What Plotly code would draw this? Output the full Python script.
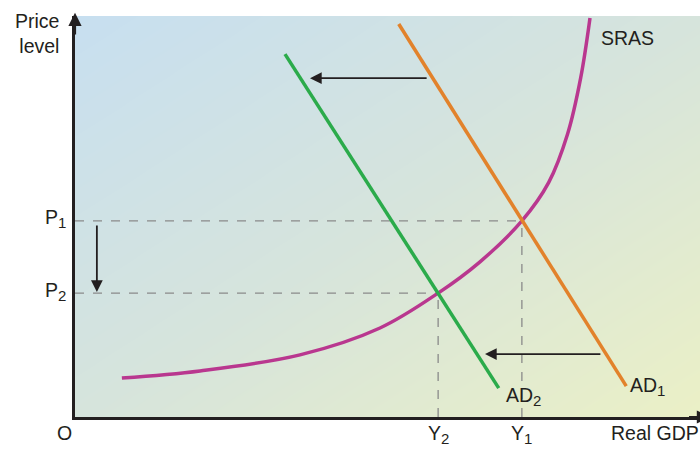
import numpy as np
import plotly.graph_objects as go

# Equilibrium values (price level and real GDP, arbitrary units 0-100)
P1, P2 = 48.9, 30.9
Y1, Y2 = 71.5, 58.1

# Short-run aggregate supply curve
sras_x = [7.5, 20.0, 36.0, 48.8, 58.1, 64.8, 71.5, 75.8, 78.8, 80.9, 82.4]
sras_y = [9.7, 11.5, 15.5, 22.2, 30.9, 38.7, 48.9, 58.5, 70.5, 84.5, 99.5]

# Aggregate demand lines (endpoints)
ad1_x = [51.8, 88.2]
ad1_y = [98.0, 7.7]
ad2_x = [33.6, 67.8]
ad2_y = [90.5, 7.2]

# Shift arrows: (x_from, y_from, x_to, y_to)
shift_arrows = [
    (56.5, 84.5, 37.6, 84.5),
    (84.3, 15.7, 65.6, 15.7),
    (3.5, 48.1, 3.5, 31.2),
]

FONT = "Liberation Sans, Arial, sans-serif"
TXT = "#231f20"
FS = 19.5


def sub(base, s):
    return f"{base}<sub><span style='font-size:15px'>{s}</span></sub>"


fig = go.Figure()

# Soft diagonal background wash
n = 40
gx = np.linspace(0, 100, n)
gy = np.linspace(0, 100, n)
gz = [[(xx / 100.0) + (1 - yy / 100.0) for xx in gx] for yy in gy]
fig.add_trace(go.Heatmap(
    x=gx, y=gy, z=gz, zsmooth="best", showscale=False, hoverinfo="skip",
    colorscale=[[0, "#c7dff0"], [0.5, "#d6e4dc"], [1, "#ebf0c6"]],
))

# Dashed guide lines
dash = dict(color="#8a8a8a", width=1.3, dash="dash")
fig.add_trace(go.Scatter(x=[0, Y1], y=[P1, P1], mode="lines", line=dash, hoverinfo="skip"))
fig.add_trace(go.Scatter(x=[0, Y2], y=[P2, P2], mode="lines", line=dash, hoverinfo="skip"))
fig.add_trace(go.Scatter(x=[Y1, Y1], y=[0, P1], mode="lines", line=dash, hoverinfo="skip"))
fig.add_trace(go.Scatter(x=[Y2, Y2], y=[0, P2], mode="lines", line=dash, hoverinfo="skip"))

# Curves
fig.add_trace(go.Scatter(x=sras_x, y=sras_y, mode="lines",
                         line=dict(color="#b9378f", width=3.5, shape="spline"), hoverinfo="skip"))
fig.add_trace(go.Scatter(x=ad1_x, y=ad1_y, mode="lines",
                         line=dict(color="#e2822b", width=3.5), hoverinfo="skip"))
fig.add_trace(go.Scatter(x=ad2_x, y=ad2_y, mode="lines",
                         line=dict(color="#2bab4b", width=3.5), hoverinfo="skip"))

annotations = []
for x0, y0, x1, y1 in shift_arrows:
    annotations.append(dict(
        x=x1, y=y1, ax=x0, ay=y0, xref="x", yref="y", axref="x", ayref="y",
        showarrow=True, arrowhead=2, arrowsize=1.3, arrowwidth=1.8,
        arrowcolor="#231f20", text=""))

# Axis arrow heads (the x-axis one runs off the right edge)
annotations.append(dict(
    x=0, y=100.8, ax=0, ay=95, xref="x", yref="y", axref="x", ayref="y",
    showarrow=True, arrowhead=2, arrowsize=1.2, arrowwidth=2.2,
    arrowcolor="#231f20", text=""))
annotations.append(dict(
    x=101.6, y=0, ax=98, ay=0, xref="x", yref="y", axref="x", ayref="y",
    showarrow=True, arrowhead=2, arrowsize=1.2, arrowwidth=2.2,
    arrowcolor="#231f20", text=""))


def label(text, x, y, xanchor="center", yanchor="middle", xref="x", yref="y", xshift=0, yshift=0):
    annotations.append(dict(text=text, x=x, y=y, xref=xref, yref=yref,
                            xanchor=xanchor, yanchor=yanchor, showarrow=False,
                            xshift=xshift, yshift=yshift,
                            font=dict(family=FONT, size=FS, color=TXT), align="right"))


label("Price<br>level", 0, 1.0, xanchor="right", yanchor="middle", xref="paper", yref="paper",
      xshift=-14, yshift=-17)
label(sub("P", 1), 0, P1, xanchor="right", xshift=-7, yshift=2)
label(sub("P", 2), 0, P2, xanchor="right", xshift=-7, yshift=2)
label("O", 0, 0, xanchor="right", yanchor="top", xshift=-1, yshift=-3)
label(sub("Y", 2), Y2, 0, yanchor="top", yshift=-3)
label(sub("Y", 1), Y1, 0, yanchor="top", yshift=-3)
label("Real GDP", 85.4, 0, xanchor="left", yanchor="top", yshift=-3)
label("SRAS", 83.9, 94.5, xanchor="left")
label(sub("AD", 1), 88.4, 7.6, xanchor="left")
label(sub("AD", 2), 68.7, 5.2, xanchor="left")

fig.update_layout(
    width=700, height=449,
    margin=dict(l=75, r=0, t=16, b=32),
    paper_bgcolor="white", plot_bgcolor="white",
    showlegend=False,
    annotations=annotations,
    xaxis=dict(range=[0, 100], showgrid=False, zeroline=False, showticklabels=False,
               ticks="", showline=True, linecolor="#231f20", linewidth=2.5, fixedrange=True),
    yaxis=dict(range=[0, 100], showgrid=False, zeroline=False, showticklabels=False,
               ticks="", showline=True, linecolor="#231f20", linewidth=2.5, fixedrange=True),
)

fig.write_html("out.html")
